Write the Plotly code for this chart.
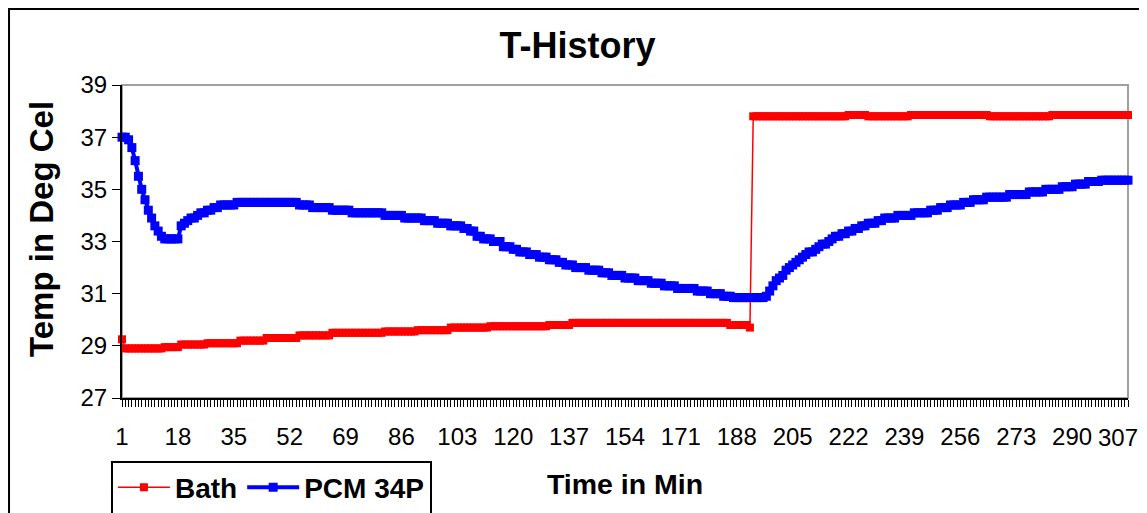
import plotly.graph_objects as go

# ---- data ----
minutes = list(range(1, 308))

x_tick_labels = [1, 18, 35, 52, 69, 86, 103, 120, 137, 154, 171, 188, 205, 222, 239, 256, 273, 290, 307]
y_tick_values = [27, 29, 31, 33, 35, 37, 39]

bath = [
    29.25, 28.9, 28.9, 28.9, 28.9, 28.9, 28.9, 28.9, 28.9, 28.9,
    28.9, 28.9, 28.9, 28.95, 28.95, 28.95, 28.95, 28.95, 29.05, 29.05,
    29.05, 29.05, 29.05, 29.05, 29.05, 29.05, 29.1, 29.1, 29.1, 29.1,
    29.1, 29.1, 29.1, 29.1, 29.1, 29.1, 29.2, 29.2, 29.2, 29.2,
    29.2, 29.2, 29.2, 29.2, 29.3, 29.3, 29.3, 29.3, 29.3, 29.3,
    29.3, 29.3, 29.3, 29.3, 29.4, 29.4, 29.4, 29.4, 29.4, 29.4,
    29.4, 29.4, 29.4, 29.4, 29.5, 29.5, 29.5, 29.5, 29.5, 29.5,
    29.5, 29.5, 29.5, 29.5, 29.5, 29.5, 29.5, 29.5, 29.5, 29.5,
    29.55, 29.55, 29.55, 29.55, 29.55, 29.55, 29.55, 29.55, 29.55, 29.55,
    29.6, 29.6, 29.6, 29.6, 29.6, 29.6, 29.6, 29.6, 29.6, 29.6,
    29.7, 29.7, 29.7, 29.7, 29.7, 29.7, 29.7, 29.7, 29.7, 29.7,
    29.7, 29.7, 29.75, 29.75, 29.75, 29.75, 29.75, 29.75, 29.75, 29.75,
    29.75, 29.75, 29.75, 29.75, 29.75, 29.75, 29.75, 29.75, 29.75, 29.75,
    29.8, 29.8, 29.8, 29.8, 29.8, 29.8, 29.8, 29.88, 29.88, 29.88,
    29.88, 29.88, 29.88, 29.88, 29.88, 29.88, 29.88, 29.88, 29.88, 29.88,
    29.88, 29.88, 29.88, 29.88, 29.88, 29.88, 29.88, 29.88, 29.88, 29.88,
    29.88, 29.88, 29.88, 29.88, 29.88, 29.88, 29.88, 29.88, 29.88, 29.88,
    29.88, 29.88, 29.88, 29.88, 29.88, 29.88, 29.88, 29.88, 29.88, 29.88,
    29.88, 29.88, 29.88, 29.88, 29.88, 29.8, 29.8, 29.8, 29.8, 29.8,
    29.8, 29.7, 37.8, 37.8, 37.8, 37.8, 37.8, 37.8, 37.8, 37.8,
    37.8, 37.8, 37.8, 37.8, 37.8, 37.8, 37.8, 37.8, 37.8, 37.8,
    37.8, 37.8, 37.8, 37.8, 37.8, 37.8, 37.8, 37.8, 37.8, 37.8,
    37.8, 37.85, 37.85, 37.85, 37.85, 37.85, 37.85, 37.8, 37.8, 37.8,
    37.8, 37.8, 37.8, 37.8, 37.8, 37.8, 37.8, 37.8, 37.8, 37.8,
    37.85, 37.85, 37.85, 37.85, 37.85, 37.85, 37.85, 37.85, 37.85, 37.85,
    37.85, 37.85, 37.85, 37.85, 37.85, 37.85, 37.85, 37.85, 37.85, 37.85,
    37.85, 37.85, 37.85, 37.85, 37.8, 37.8, 37.8, 37.8, 37.8, 37.8,
    37.8, 37.8, 37.8, 37.8, 37.8, 37.8, 37.8, 37.8, 37.8, 37.8,
    37.8, 37.8, 37.8, 37.85, 37.85, 37.85, 37.85, 37.85, 37.85, 37.85,
    37.85, 37.85, 37.85, 37.85, 37.85, 37.85, 37.85, 37.85, 37.85, 37.85,
    37.85, 37.85, 37.85, 37.85, 37.85, 37.85, 37.85,
]

pcm_34p = [
    37.0, 37.0, 36.9, 36.6, 36.1, 35.5, 35.0, 34.6, 34.2, 33.9,
    33.6, 33.4, 33.2, 33.1, 33.1, 33.1, 33.1, 33.1, 33.6, 33.7,
    33.8, 33.9, 33.9, 34.0, 34.1, 34.1, 34.2, 34.2, 34.3, 34.3,
    34.4, 34.4, 34.4, 34.4, 34.4, 34.5, 34.5, 34.5, 34.5, 34.5,
    34.5, 34.5, 34.5, 34.5, 34.5, 34.5, 34.5, 34.5, 34.5, 34.5,
    34.5, 34.5, 34.5, 34.5, 34.4, 34.4, 34.4, 34.4, 34.3, 34.3,
    34.3, 34.3, 34.3, 34.3, 34.2, 34.2, 34.2, 34.2, 34.2, 34.2,
    34.1, 34.1, 34.1, 34.1, 34.1, 34.1, 34.1, 34.1, 34.1, 34.1,
    34.0, 34.0, 34.0, 34.0, 34.0, 34.0, 33.9, 33.9, 33.9, 33.9,
    33.9, 33.9, 33.8, 33.8, 33.8, 33.8, 33.7, 33.7, 33.7, 33.7,
    33.6, 33.6, 33.6, 33.6, 33.5, 33.5, 33.4, 33.4, 33.2, 33.2,
    33.1, 33.1, 33.1, 33.0, 33.0, 33.0, 32.8, 32.8, 32.8, 32.7,
    32.7, 32.6, 32.6, 32.6, 32.5, 32.5, 32.5, 32.4, 32.4, 32.4,
    32.3, 32.3, 32.3, 32.2, 32.2, 32.1, 32.1, 32.1, 32.0, 32.0,
    32.0, 32.0, 31.9, 31.9, 31.9, 31.9, 31.8, 31.8, 31.8, 31.7,
    31.7, 31.7, 31.7, 31.6, 31.6, 31.6, 31.6, 31.5, 31.5, 31.5,
    31.5, 31.4, 31.4, 31.4, 31.4, 31.3, 31.3, 31.3, 31.3, 31.2,
    31.2, 31.2, 31.2, 31.2, 31.2, 31.1, 31.1, 31.1, 31.1, 31.0,
    31.0, 31.0, 31.0, 30.9, 30.9, 30.9, 30.85, 30.85, 30.85, 30.85,
    30.85, 30.85, 30.85, 30.85, 30.85, 30.85, 30.9, 31.1, 31.3, 31.5,
    31.6, 31.7, 31.9, 32.0, 32.1, 32.2, 32.3, 32.4, 32.5, 32.6,
    32.6, 32.7, 32.8, 32.9, 32.9, 33.0, 33.1, 33.2, 33.2, 33.3,
    33.3, 33.4, 33.4, 33.5, 33.5, 33.6, 33.6, 33.7, 33.7, 33.7,
    33.8, 33.8, 33.9, 33.9, 33.9, 33.9, 34.0, 34.0, 34.0, 34.0,
    34.0, 34.1, 34.1, 34.1, 34.1, 34.1, 34.2, 34.2, 34.2, 34.3,
    34.3, 34.3, 34.4, 34.4, 34.4, 34.4, 34.5, 34.5, 34.5, 34.6,
    34.6, 34.6, 34.6, 34.7, 34.7, 34.7, 34.7, 34.7, 34.7, 34.7,
    34.8, 34.8, 34.8, 34.8, 34.8, 34.8, 34.9, 34.9, 34.9, 34.9,
    34.9, 35.0, 35.0, 35.0, 35.0, 35.0, 35.1, 35.1, 35.1, 35.1,
    35.2, 35.2, 35.2, 35.2, 35.3, 35.3, 35.3, 35.3, 35.35, 35.35,
    35.35, 35.35, 35.35, 35.35, 35.35, 35.35, 35.35,
]

assert len(bath) == len(minutes) == len(pcm_34p)

FONT = "Liberation Sans, Arial, sans-serif"

fig = go.Figure()
fig.add_trace(go.Scatter(
    x=minutes, y=bath, name="Bath", mode="lines+markers",
    line=dict(color="#ff0000", width=1.5),
    marker=dict(symbol="square", size=8, color="#ff0000"),
    cliponaxis=False,
))
fig.add_trace(go.Scatter(
    x=minutes, y=pcm_34p, name="PCM 34P", mode="lines+markers",
    line=dict(color="#0000ff", width=4),
    marker=dict(symbol="square", size=9, color="#0000ff"),
    cliponaxis=False,
))

# the last tick label is drawn as an annotation at its tick, nudged left
# (as Excel does) so it stays inside the chart
tick_texts = [str(v) for v in x_tick_labels[:-1]] + [""]
last_tick = x_tick_labels[-1]

# the page body adds an 8px offset, so the figure is sized 1139x505
fig.update_layout(
    width=1139, height=505,
    margin=dict(l=114, r=19, t=77, b=115, autoexpand=False),
    paper_bgcolor="white", plot_bgcolor="white",
    font=dict(family=FONT, color="black", size=24),
    title=dict(text="T-History", x=0.5, xref="container", xanchor="center",
               y=0.9267, yref="container", yanchor="middle",
               font=dict(size=36, weight="bold", family=FONT, color="black")),
    showlegend=True,
    legend=dict(orientation="h", x=-0.011, y=-0.2, xanchor="left", yanchor="top",
                bordercolor="black", borderwidth=2, bgcolor="white",
                font=dict(size=28, weight="bold", family=FONT, color="black"),
                itemwidth=52, traceorder="normal"),
    shapes=[
        # outer chart border
        dict(type="rect", xref="paper", yref="paper", x0=-0.1123, x1=1.0149,
             y0=-0.5, y1=1.2428, line=dict(color="black", width=2), layer="below"),
        # plot area border (gray)
        dict(type="rect", xref="paper", yref="paper", x0=0, x1=1, y0=0, y1=1,
             line=dict(color="#a0a0a0", width=2), layer="below"),
    ],
    annotations=[
        dict(text="Temp in Deg Cel", textangle=-90, xref="paper", yref="paper",
             x=-0.0795, y=0.54, xanchor="center", yanchor="middle", showarrow=False,
             font=dict(size=33, weight="bold", family=FONT, color="black")),
        dict(text=str(last_tick), xref="x", yref="paper", x=last_tick, y=0,
             xanchor="right", yanchor="middle", xshift=12, yshift=-39,
             showarrow=False, font=dict(size=24, family=FONT, color="black")),
    ],
)

fig.update_xaxes(
    range=[1, 307], tickmode="array", tickvals=x_tick_labels,
    ticktext=tick_texts,
    ticks="", showgrid=False, zeroline=False, automargin=False,
    showline=True, linecolor="black", linewidth=2,
    minor=dict(ticks="outside", ticklen=7, tickwidth=1, tickcolor="black",
               tickmode="linear", tick0=1, dtick=1, showgrid=False),
    tickfont=dict(size=24, family=FONT, color="black"),
    ticklabelstandoff=16,
    title=dict(text="Time in Min", standoff=25,
               font=dict(size=28.5, weight="bold", family=FONT, color="black")),
)
fig.update_yaxes(
    range=[27, 39], tickmode="array", tickvals=y_tick_values,
    ticks="outside", ticklen=8, tickwidth=1, tickcolor="black",
    showgrid=False, zeroline=False, automargin=False,
    showline=True, linecolor="black", linewidth=2,
    tickfont=dict(size=24, family=FONT, color="black"),
)

fig.write_html("out.html")
